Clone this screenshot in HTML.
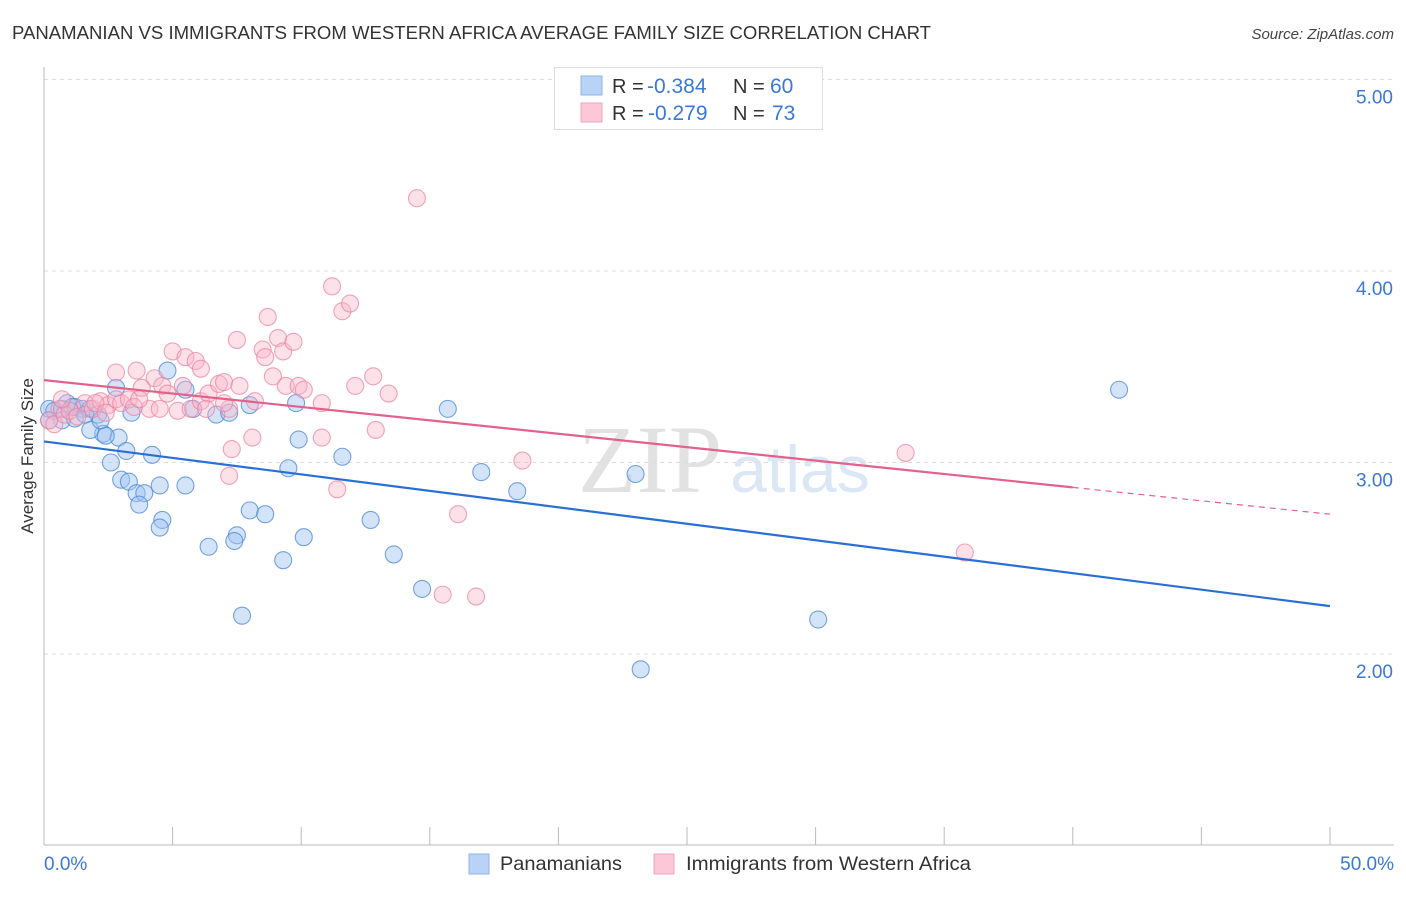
<!DOCTYPE html>
<html><head><meta charset="utf-8">
<style>
body{margin:0;background:#fff;font-family:"Liberation Sans",sans-serif;}
</style></head>
<body>
<svg id="chart" width="1406" height="892" xmlns="http://www.w3.org/2000/svg">
<text x="12" y="39" font-size="18" fill="#333" textLength="919" lengthAdjust="spacingAndGlyphs">PANAMANIAN VS IMMIGRANTS FROM WESTERN AFRICA AVERAGE FAMILY SIZE CORRELATION CHART</text>
<text x="1394" y="39" font-size="15" fill="#444" font-style="italic" text-anchor="end">Source: ZipAtlas.com</text>
<text x="33" y="456" font-size="17" fill="#333" text-anchor="middle" transform="rotate(-90 33 456)">Average Family Size</text>
<text x="650" y="492" font-size="96" fill="#e2e2e2" font-family="Liberation Serif,serif" text-anchor="middle">ZIP</text>
<text x="800" y="492" font-size="66" fill="#dce7f6" text-anchor="middle">atlas</text>
<g id="grid"></g><g id="axes"></g><g id="pts"></g><g id="lines"></g>
<g>
<rect x="554.5" y="67.5" width="268" height="62" fill="#fff" stroke="#ddd"/>
<rect x="581" y="76" width="21" height="19" fill="#b8d3f5" stroke="#8fb5e8"/>
<rect x="581" y="103" width="21" height="19" fill="#fcc8d8" stroke="#f1a4bd"/>
<text x="612" y="93" font-size="20" fill="#333">R =</text>
<text x="647" y="93" font-size="21" fill="#3b78d8">-0.384</text>
<text x="733" y="93" font-size="20" fill="#333">N =</text>
<text x="770" y="93" font-size="21" fill="#3b78d8">60</text>
<text x="612" y="120" font-size="20" fill="#333">R =</text>
<text x="648" y="120" font-size="21" fill="#3b78d8">-0.279</text>
<text x="733" y="120" font-size="20" fill="#333">N =</text>
<text x="772" y="120" font-size="21" fill="#3b78d8">73</text>
</g>
<g>
<rect x="469" y="854" width="20" height="20" fill="#b8d3f5" stroke="#8fb5e8"/>
<text x="500" y="870" font-size="19.5" fill="#333" textLength="122" lengthAdjust="spacingAndGlyphs">Panamanians</text>
<rect x="654" y="854" width="20" height="20" fill="#fcc8d8" stroke="#f1a4bd"/>
<text x="686" y="870" font-size="19.5" fill="#333" textLength="285" lengthAdjust="spacingAndGlyphs">Immigrants from Western Africa</text>
</g>
</svg>
<script>
const yTicks=[2,3,4,5];
const yTickLabels=["2.00","3.00","4.00","5.00"];
const xTickLabels=["0.0%","50.0%"];
const blueX=[0.2,0.4,0.7,0.9,1.2,1.5,1.8,2.1,0.7,1.2,2.8,3.4,4.8,5.5,5.8,6.7,7.2,8.0,9.8,15.7,2.3,2.9,1.8,2.4,2.6,3.2,4.2,9.9,11.6,17.0,23.0,41.8,3.0,3.3,3.6,3.9,4.5,5.5,3.7,4.6,4.5,8.0,8.6,9.5,7.5,7.4,6.4,10.1,12.7,13.6,9.3,14.7,18.4,7.7,30.1,23.2,1.1,1.6,2.2,0.2];
const blueY=[3.28,3.27,3.28,3.31,3.29,3.28,3.28,3.25,3.22,3.23,3.39,3.26,3.48,3.38,3.28,3.25,3.26,3.30,3.31,3.28,3.15,3.13,3.17,3.14,3.00,3.06,3.04,3.12,3.03,2.95,2.94,3.38,2.91,2.90,2.84,2.84,2.88,2.88,2.78,2.70,2.66,2.75,2.73,2.97,2.62,2.59,2.56,2.61,2.70,2.52,2.49,2.34,2.85,2.20,2.18,1.92,3.29,3.25,3.22,3.22];
const pinkX=[0.2,0.4,0.6,0.8,1.0,1.3,1.6,1.9,2.2,2.5,2.8,3.0,3.3,3.5,2.8,3.6,3.8,4.3,4.6,5.0,5.5,5.9,6.1,5.4,4.1,4.5,5.2,5.7,6.1,6.4,6.8,7.0,7.6,8.2,7.2,6.3,7.5,8.7,8.5,8.6,9.1,9.3,9.7,8.9,9.4,9.9,10.1,10.8,11.2,11.6,11.9,12.1,12.8,13.4,12.9,10.8,8.1,7.3,7.2,11.4,16.1,15.5,16.8,18.6,14.5,33.5,35.8,0.7,2.0,2.4,3.7,4.8,7.0];
const pinkY=[3.22,3.20,3.28,3.25,3.27,3.24,3.31,3.28,3.32,3.30,3.33,3.31,3.33,3.29,3.47,3.48,3.39,3.44,3.40,3.58,3.55,3.53,3.49,3.40,3.28,3.28,3.27,3.28,3.32,3.36,3.41,3.42,3.40,3.32,3.28,3.28,3.64,3.76,3.59,3.55,3.65,3.58,3.63,3.45,3.40,3.40,3.38,3.31,3.92,3.79,3.83,3.40,3.45,3.36,3.17,3.13,3.13,3.07,2.93,2.86,2.73,2.31,2.30,3.01,4.38,3.05,2.53,3.33,3.31,3.26,3.33,3.36,3.31];
const blueLine=[3.11,2.25];
const pinkLine=[3.43,2.73];
const pinkSolidEnd=40;

const NS="http://www.w3.org/2000/svg";
const X0=44,X1=1330;
const sx=v=>X0+(v/50)*(X1-X0);
const sy=v=>654-(v-2)*191.5;
function mk(tag,attrs,parent){const e=document.createElementNS(NS,tag);for(const k in attrs)e.setAttribute(k,attrs[k]);parent.appendChild(e);return e;}
const grid=document.getElementById('grid'),axes=document.getElementById('axes'),pts=document.getElementById('pts'),lines=document.getElementById('lines');
yTicks.forEach((t,i)=>{
 const l=mk('line',{x1:44,x2:1394,y1:sy(t),y2:sy(t),stroke:'#ddd','stroke-dasharray':'4 4'},grid);
 
 
 const tx=mk('text',{x:1393,y:sy(t)+24,'font-size':19,fill:'#3b78d8','text-anchor':'end'},axes);
 tx.textContent=yTickLabels[i];
 
 
});
const ya=mk('line',{x1:44,x2:44,y1:67,y2:845,stroke:'#bbb'},axes);


const xa=mk('line',{x1:44,x2:1394,y1:845,y2:845,stroke:'#bbb'},axes);


for(let i=0;i<=10;i++){
 const tk=mk('line',{x1:sx(i*5),x2:sx(i*5),y1:827,y2:845,stroke:'#bbb'},axes);
 
 
}
const xl0=mk('text',{x:44,y:870,'font-size':19,fill:'#3b78d8'},axes);xl0.textContent=xTickLabels[0];


const xl1=mk('text',{x:1394,y:870,'font-size':19,fill:'#3b78d8','text-anchor':'end'},axes);xl1.textContent=xTickLabels[1];


blueX.forEach((v,i)=>{
 const c=mk('circle',{cx:sx(v),cy:sy(blueY[i]),r:8.5,fill:'rgba(160,196,240,0.45)',stroke:'#4a86d8','stroke-width':1.1,'stroke-opacity':0.75},pts);
 
 
});
pinkX.forEach((v,i)=>{
 const c=mk('circle',{cx:sx(v),cy:sy(pinkY[i]),r:8.5,fill:'rgba(250,180,200,0.4)',stroke:'#ea7fa0','stroke-width':1.1,'stroke-opacity':0.7},pts);
 
 
});
const bl=mk('line',{x1:sx(0),y1:sy(blueLine[0]),x2:sx(50),y2:sy(blueLine[1]),stroke:'#2a6fd6','stroke-width':2.2},lines);


const pAt=v=>pinkLine[0]+(pinkLine[1]-pinkLine[0])*v/50;
const pl=mk('line',{x1:sx(0),y1:sy(pinkLine[0]),x2:sx(pinkSolidEnd),y2:sy(pAt(pinkSolidEnd)),stroke:'#e4618b','stroke-width':2.2},lines);


const pd=mk('line',{x1:sx(pinkSolidEnd),y1:sy(pAt(pinkSolidEnd)),x2:sx(50),y2:sy(pinkLine[1]),stroke:'#e4618b','stroke-width':1.2,'stroke-dasharray':'6 5'},lines);


</script>
</body></html>
